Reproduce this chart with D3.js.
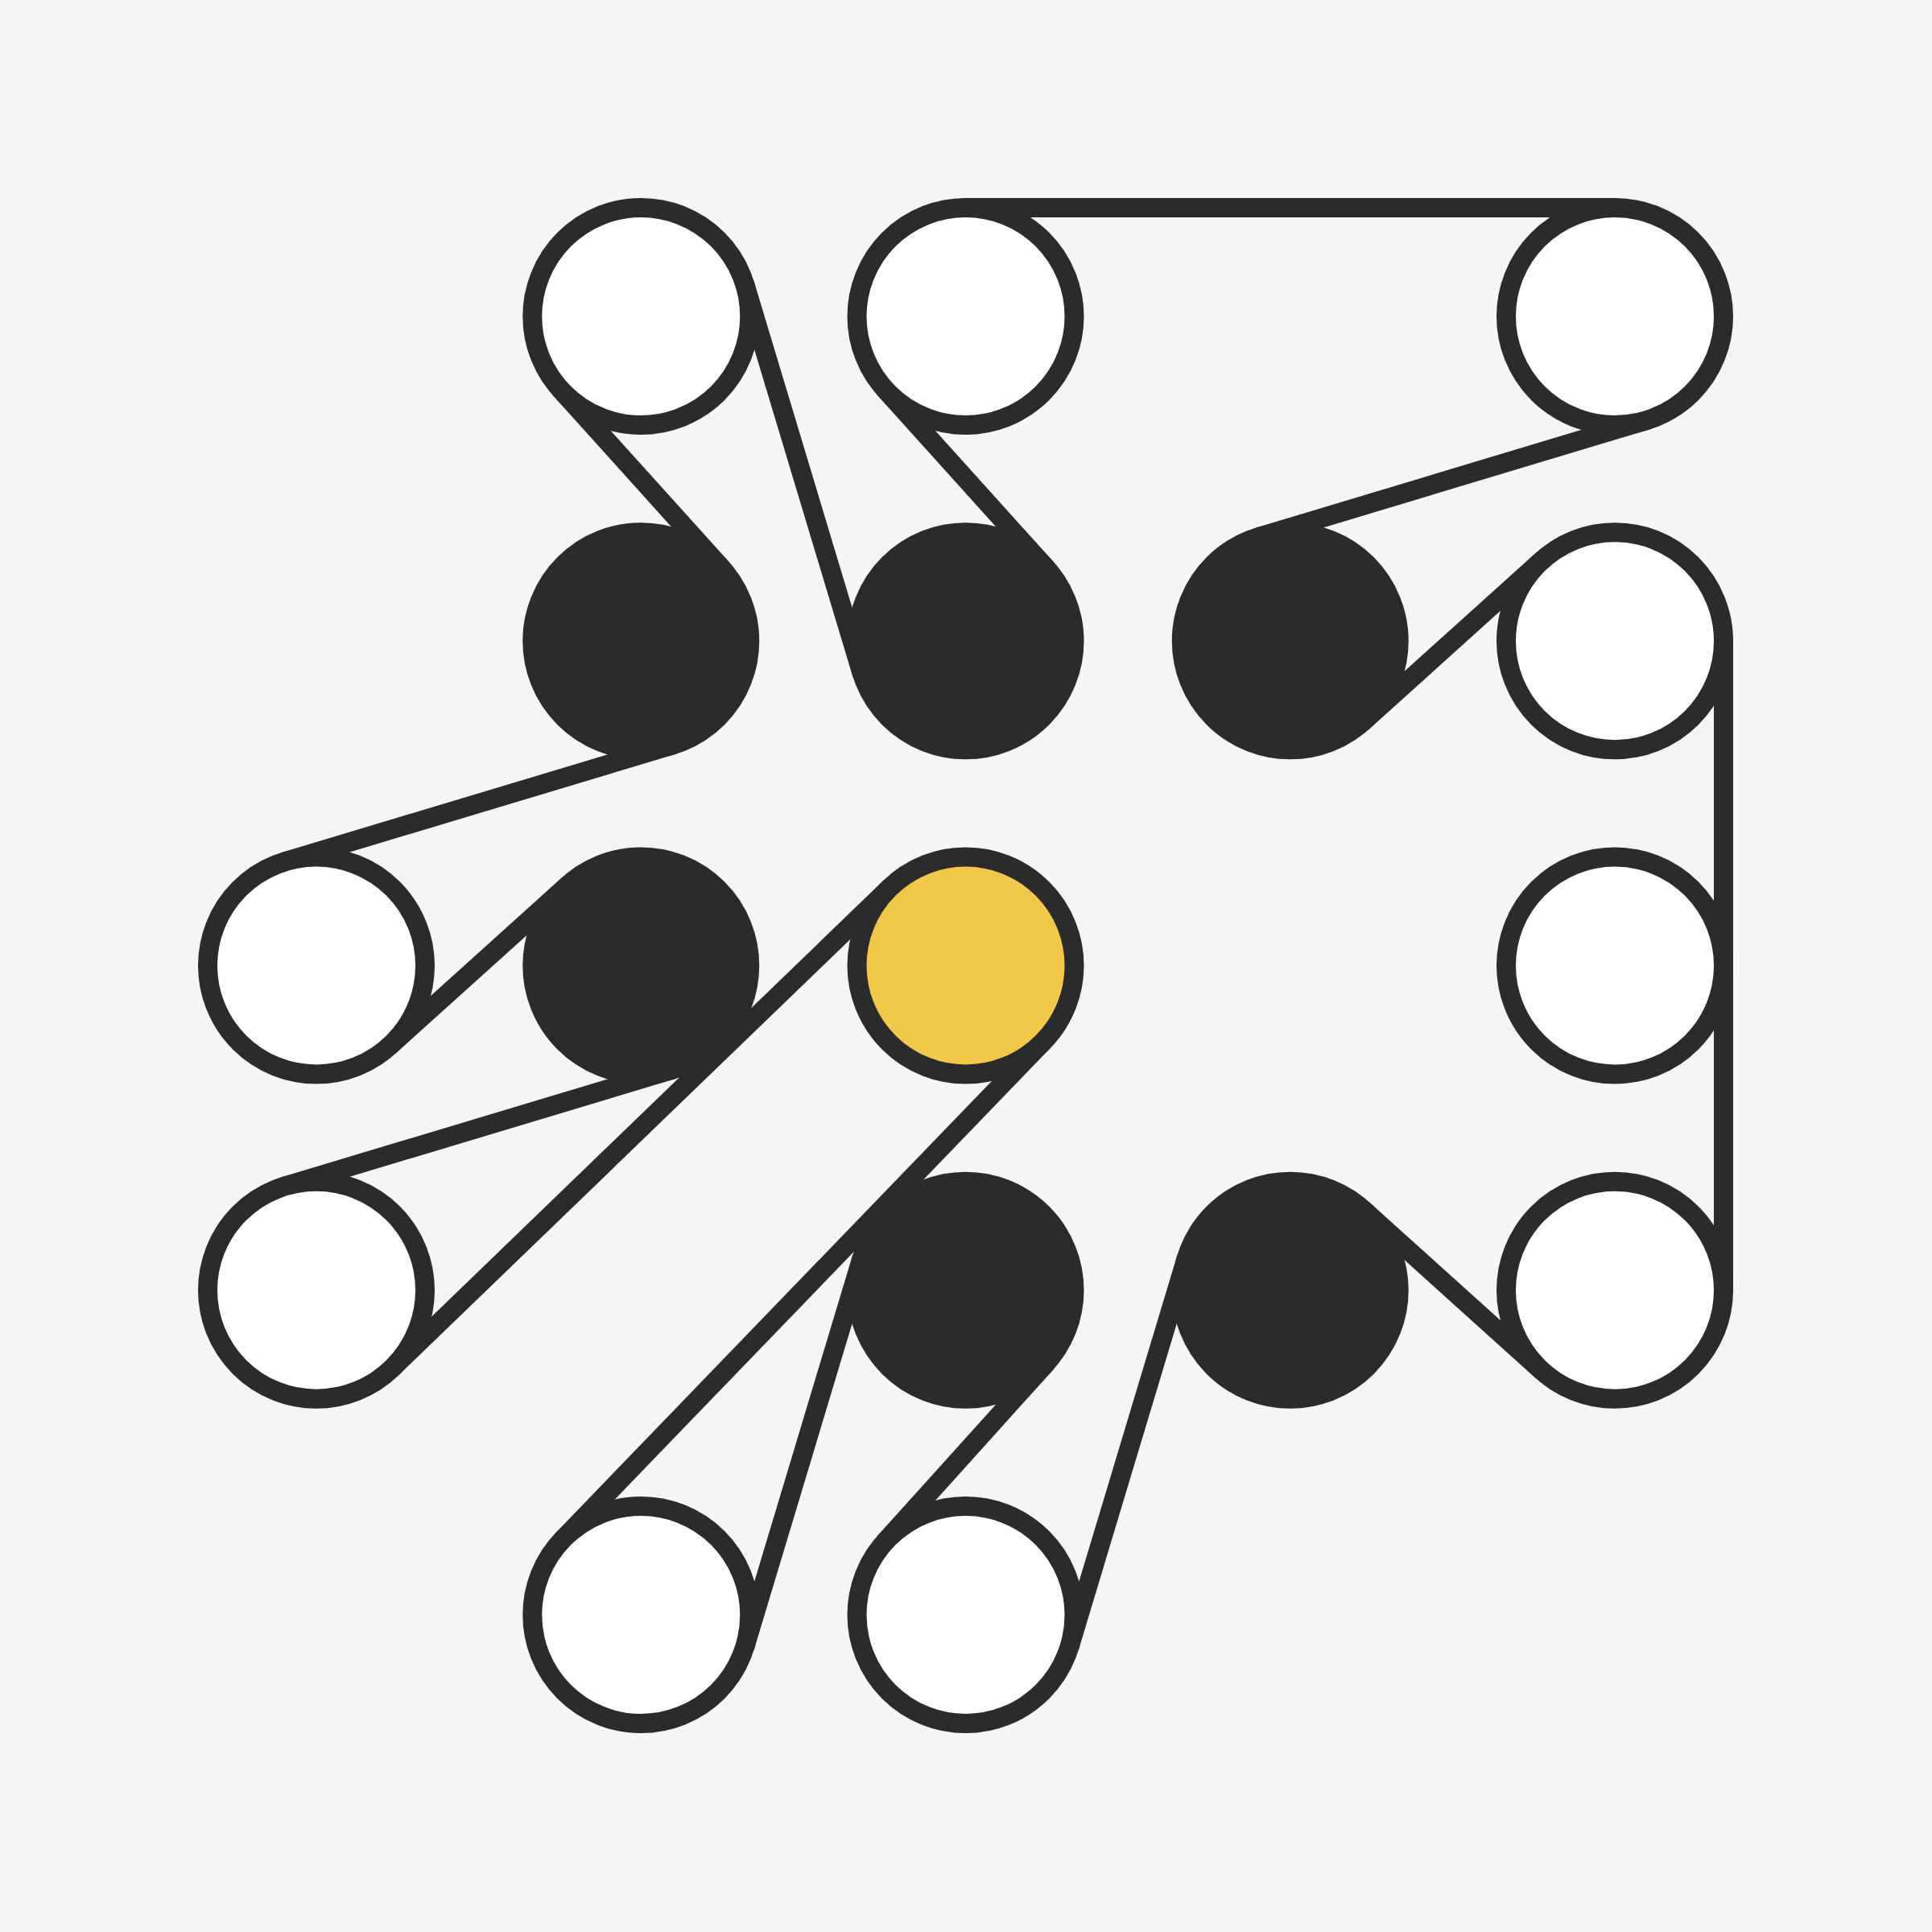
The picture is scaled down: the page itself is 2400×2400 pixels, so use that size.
<!DOCTYPE html>
<html><head><meta charset="utf-8">
<script src="https://cdn.jsdelivr.net/npm/d3@7"></script>
<style>html,body{margin:0;background:#f5f5f5}</style>
</head><body>
<script>
// pulleys: [column, row, kind]
const pulleys = [
  ["p784_784",2,2,"yellow"],
  ["p257_1047",0,3,"white"],
  ["p520_784",1,2,"black"],
  ["p257_784",0,2,"white"],
  ["p520_520",1,1,"black"],
  ["p520_257",1,0,"white"],
  ["p784_520",2,1,"black"],
  ["p784_257",2,0,"white"],
  ["p1310_257",4,0,"white"],
  ["p1047_520",3,1,"black"],
  ["p1310_520",4,1,"white"],
  ["p1310_784",4,2,"white"],
  ["p1310_1047",4,3,"white"],
  ["p1047_1047",3,3,"black"],
  ["p784_1310",2,4,"white"],
  ["p784_1047",2,3,"black"],
  ["p520_1310",1,4,"white"]
];
// belt segments: [from, to, type ("in"/"ex"), side]
const belt = [
  [0,1,"in",1],[1,2,"in",-1],[2,3,"in",1],[3,4,"in",-1],[4,5,"in",1],
  [5,6,"in",-1],[6,7,"in",1],[7,8,"ex",-1],[8,9,"in",-1],[9,10,"in",1],
  [10,11,"ex",-1],[11,12,"ex",-1],[12,13,"in",-1],[13,14,"in",1],
  [14,15,"in",-1],[15,16,"in",1],[16,0,"in",-1]
];
const fills = {white:"#ffffff", black:"#2b2b2b", yellow:"#f2c84b"};
const W=2400, ink="#2b2b2b", r=135, sw=24;
const x=d3.scaleLinear().domain([0,4]).range([393,2006]);
const y=d3.scaleLinear().domain([0,4]).range([393,2006]);
const svg=d3.select("body").append("svg").attr("width",W).attr("height",W);
svg.append("rect").attr("width",W).attr("height",W).attr("fill","#f5f5f5");
const P=pulleys.map(p=>({x:x(p[1]),y:y(p[2]),k:p[3]}));
const segs=belt.map(([a,b,t,s])=>{
  const c1=P[a],c2=P[b];
  const dx=c2.x-c1.x, dy=c2.y-c1.y, L=Math.hypot(dx,dy);
  const ux=dx/L, uy=dy/L, px=-uy, py=ux;
  let nx,ny,sgn2;
  if(t==="ex"){nx=s*px;ny=s*py;sgn2=1;}
  else{const c=2*r/L, sn=Math.sqrt(1-c*c); nx=c*ux+s*sn*px; ny=c*uy+s*sn*py; sgn2=-1;}
  return {x1:c1.x+r*nx,y1:c1.y+r*ny,x2:c2.x+sgn2*r*nx,y2:c2.y+sgn2*r*ny};
});
svg.selectAll("line.belt").data(segs).join("line").attr("class","belt")
  .attr("x1",d=>d.x1).attr("y1",d=>d.y1).attr("x2",d=>d.x2).attr("y2",d=>d.y2)
  .attr("stroke",ink).attr("stroke-width",sw).attr("stroke-linecap","round");
svg.selectAll("circle.p").data(P).join("circle").attr("class","p")
  .attr("cx",d=>d.x).attr("cy",d=>d.y).attr("r",r)
  .attr("fill",d=>fills[d.k]).attr("stroke",ink).attr("stroke-width",sw);
</script>
</body></html>
